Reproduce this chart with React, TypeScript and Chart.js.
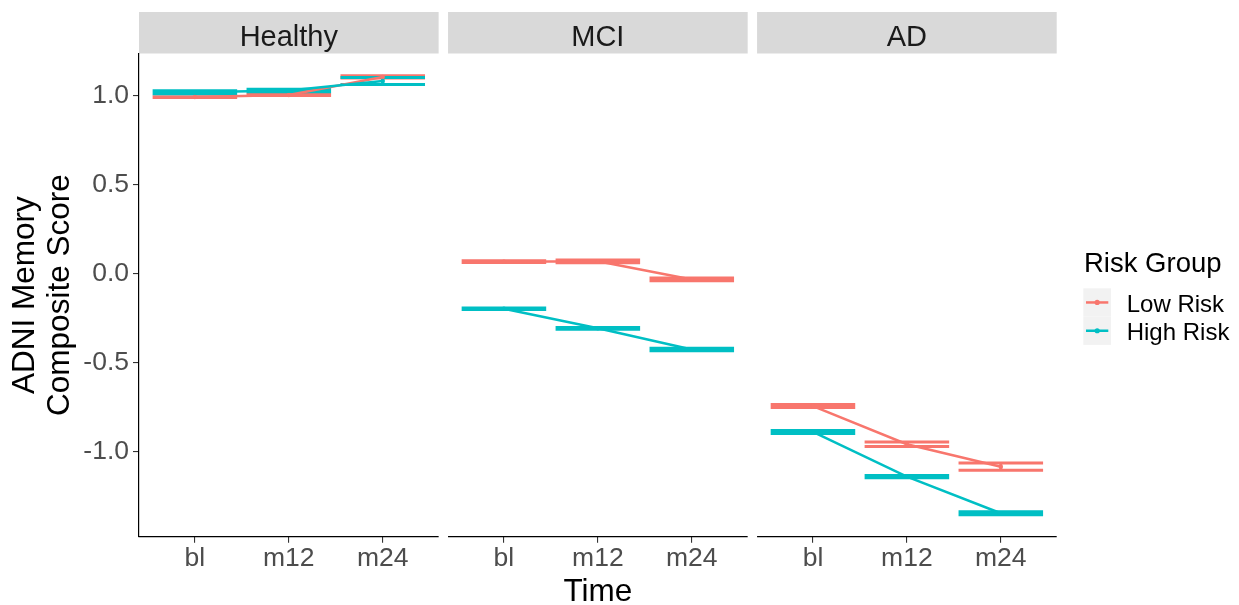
import React, { useEffect, useRef } from 'react';
import { Chart, registerables } from 'chart.js';

Chart.register(...registerables);

// ---------------- data ----------------
const panelNames = ['Healthy', 'MCI', 'AD'];
const timeLabels = ['bl', 'm12', 'm24'];
const yTickValues = [-1.0, -0.5, 0.0, 0.5, 1.0];
const riskGroups = ['Low Risk', 'High Risk'];

// means per panel (Healthy, MCI, AD) x time (bl, m12, m24)
const lowRiskMeans = [
  [0.992, 1.003, 1.105],
  [0.066, 0.068, -0.034],
  [-0.746, -0.961, -1.087],
];
const lowRiskSE = [
  [0.002, 0.003, 0.006],
  [0.005, 0.008, 0.0075],
  [0.008, 0.013, 0.020],
];
const highRiskMeans = [
  [1.019, 1.029, 1.082],
  [-0.199, -0.309, -0.428],
  [-0.892, -1.143, -1.349],
];
const highRiskSE = [
  [0.008, 0.007, 0.020],
  [0.0037, 0.0048, 0.0075],
  [0.008, 0.0065, 0.008],
];

const groupMeans = [lowRiskMeans, highRiskMeans];
const groupSE = [lowRiskSE, highRiskSE];
const COLORS = ['#F8766D', '#00BFC4'];

// ---------------- layout helpers ----------------
const FONT = "'Liberation Sans', Arial, Helvetica, sans-serif";
const W = 1239;
const H = 605;
const PANEL_W = 3.19;
const PANEL_GAP = 0.1;
const EXPAND = 0.595;
const CAP_W = 0.9;
const X_MAX = 3 * PANEL_W + 2 * PANEL_GAP;
const Y_MIN = -1.4809;
const Y_MAX = 1.2368;

const panelStart = (p: number) => p * (PANEL_W + PANEL_GAP);
const xPos = (p: number, k: number) => panelStart(p) + EXPAND + k;
const xTickPositions: number[] = [];
panelNames.forEach((_, p) => timeLabels.forEach((__, k) => xTickPositions.push(xPos(p, k))));

const errorBarPlugin = {
  id: 'errorBars',
  beforeDatasetsDraw(chart: any) {
    const { ctx, scales } = chart;
    const x = scales.x;
    const y = scales.y;
    ctx.save();
    ctx.lineWidth = 3;
    ctx.lineCap = 'butt';
    groupMeans.forEach((means, g) => {
      ctx.strokeStyle = COLORS[g];
      means.forEach((row, p) => {
        row.forEach((m, k) => {
          const se = groupSE[g][p][k];
          const cx = x.getPixelForValue(xPos(p, k));
          const x0 = x.getPixelForValue(xPos(p, k) - CAP_W / 2);
          const x1 = x.getPixelForValue(xPos(p, k) + CAP_W / 2);
          const yt = y.getPixelForValue(m + se);
          const yb = y.getPixelForValue(m - se);
          ctx.beginPath();
          ctx.moveTo(x0, yt);
          ctx.lineTo(x1, yt);
          ctx.moveTo(x0, yb);
          ctx.lineTo(x1, yb);
          ctx.moveTo(cx, yt);
          ctx.lineTo(cx, yb);
          ctx.stroke();
        });
      });
    });
    ctx.restore();
  },
};

const panelPlugin = {
  id: 'panels',
  beforeDraw(chart: any) {
    const { ctx } = chart;
    const x = chart.scales.x;
    ctx.save();
    ctx.fillStyle = '#FFFFFF';
    ctx.fillRect(0, 0, W, H);
    panelNames.forEach((name, p) => {
      const l = x.getPixelForValue(panelStart(p));
      const r = x.getPixelForValue(panelStart(p) + PANEL_W);
      ctx.fillStyle = '#D9D9D9';
      ctx.fillRect(l, 12, r - l, 41.5);
      ctx.fillStyle = '#1A1A1A';
      ctx.font = `29px ${FONT}`;
      ctx.textAlign = 'center';
      ctx.textBaseline = 'alphabetic';
      ctx.fillText(name, (l + r) / 2, 45.8);
    });
    ctx.restore();
  },
  afterDraw(chart: any) {
    const { ctx, chartArea } = chart;
    const x = chart.scales.x;
    ctx.save();
    ctx.strokeStyle = '#000000';
    ctx.lineWidth = 1.2;
    panelNames.forEach((_, p) => {
      const l = x.getPixelForValue(panelStart(p));
      const r = x.getPixelForValue(panelStart(p) + PANEL_W);
      ctx.beginPath();
      ctx.moveTo(l - (p === 0 ? 0.6 : 0), chartArea.bottom);
      ctx.lineTo(r, chartArea.bottom);
      ctx.stroke();
    });

    // legend
    ctx.fillStyle = '#000000';
    ctx.font = `27.5px ${FONT}`;
    ctx.textAlign = 'left';
    ctx.textBaseline = 'alphabetic';
    ctx.fillText('Risk Group', 1084, 271.7);
    const keyTop = 288.3;
    const keyH = 28.3;
    riskGroups.forEach((label, g) => {
      const ky = keyTop + g * keyH;
      ctx.fillStyle = '#F2F2F2';
      ctx.fillRect(1083.3, ky, 27.7, keyH);
      const cy = ky + keyH / 2;
      ctx.strokeStyle = COLORS[g];
      ctx.lineWidth = 2.5;
      ctx.beginPath();
      ctx.moveTo(1086, cy);
      ctx.lineTo(1108.3, cy);
      ctx.stroke();
      ctx.fillStyle = COLORS[g];
      ctx.beginPath();
      ctx.arc(1097.2, cy, 2.6, 0, Math.PI * 2);
      ctx.fill();
      ctx.fillStyle = '#000000';
      ctx.font = `24px ${FONT}`;
      ctx.fillText(label, 1126.7, cy + 9.3);
    });
    ctx.restore();
  },
};

export default function App() {
  const canvasRef = useRef<HTMLCanvasElement | null>(null);

  useEffect(() => {
    document.body.style.margin = '0';
    const canvas = canvasRef.current;
    if (!canvas) return;

    const datasets: any[] = [];
    groupMeans.forEach((means, g) => {
      means.forEach((row, p) => {
        datasets.push({
          label: `${riskGroups[g]} ${panelNames[p]}`,
          data: row.map((m, k) => ({ x: xPos(p, k), y: m })),
          borderColor: COLORS[g],
          backgroundColor: COLORS[g],
          borderWidth: 2.5,
          pointRadius: 2.2,
          pointBorderWidth: 0,
          pointHoverRadius: 2.2,
          tension: 0,
          fill: false,
          order: g === 0 ? 1 : 0,
        });
      });
    });

    const chart = new Chart(canvas, {
      type: 'line',
      data: { datasets },
      plugins: [panelPlugin, errorBarPlugin],
      options: {
        animation: false,
        responsive: false,
        maintainAspectRatio: false,
        devicePixelRatio: 1,
        layout: { padding: { top: 53.5, right: W - 1056.7, bottom: 0, left: 0 } },
        plugins: {
          legend: { display: false },
          tooltip: { enabled: false },
        },
        scales: {
          x: {
            type: 'linear',
            min: 0,
            max: X_MAX,
            afterFit: (s: any) => {
              s.height = H - 536.7;
            },
            afterBuildTicks: (s: any) => {
              s.ticks = xTickPositions.map((v) => ({ value: v }));
            },
            ticks: {
              autoSkip: false,
              maxRotation: 0,
              padding: 3,
              color: '#4D4D4D',
              font: { family: FONT, size: 26.5, lineHeight: 1 },
              callback: (_v: any, i: number) => timeLabels[i % timeLabels.length],
            },
            grid: {
              drawOnChartArea: false,
              drawTicks: true,
              tickLength: 6,
              color: '#333333',
              lineWidth: 1.1,
            },
            border: { display: false },
            title: {
              display: true,
              text: 'Time',
              color: '#000000',
              font: { family: FONT, size: 31.5, lineHeight: 0.92 },
              padding: { top: 0, bottom: -1.5 },
            },
          },
          y: {
            type: 'linear',
            min: Y_MIN,
            max: Y_MAX,
            afterFit: (s: any) => {
              s.width = 139;
            },
            afterBuildTicks: (s: any) => {
              s.ticks = yTickValues.map((v) => ({ value: v }));
            },
            ticks: {
              padding: 4,
              color: '#4D4D4D',
              font: { family: FONT, size: 26.5, lineHeight: 1 },
              callback: (v: any) => Number(v).toFixed(1),
            },
            grid: {
              drawOnChartArea: false,
              drawTicks: true,
              tickLength: 6,
              color: '#333333',
              lineWidth: 1.1,
            },
            border: { display: true, color: '#000000', width: 1.2 },
            title: {
              display: true,
              text: ['ADNI Memory', 'Composite Score'],
              color: '#000000',
              font: { family: FONT, size: 31.5, lineHeight: 35 / 31.5 },
              padding: { top: 7.5, bottom: 0 },
            },
          },
        },
      },
    } as any);

    return () => {
      chart.destroy();
    };
  }, []);

  return (
    <div style={{ width: W, height: H }}>
      <canvas ref={canvasRef} width={W} height={H} style={{ display: 'block' }} />
    </div>
  );
}
